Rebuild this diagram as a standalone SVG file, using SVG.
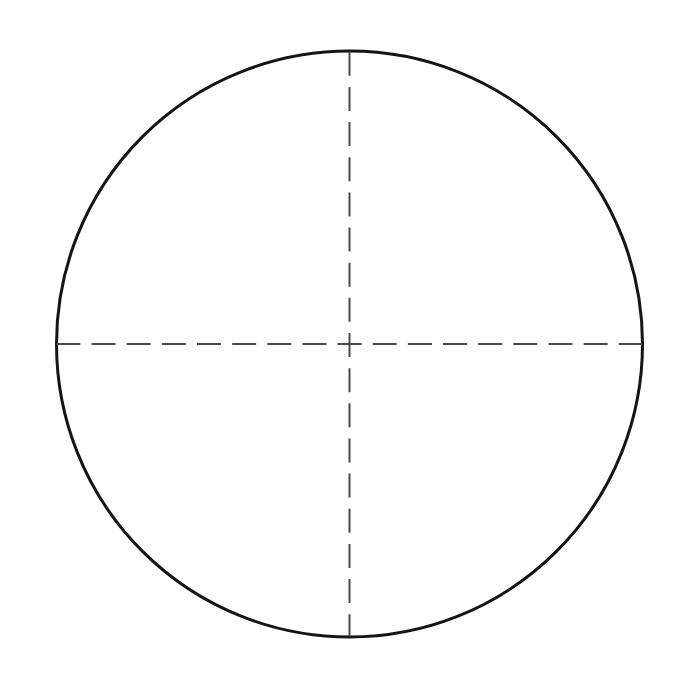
<svg xmlns="http://www.w3.org/2000/svg" width="700" height="700" viewBox="0 0 700 700">
<style>
.axis{stroke:#4a4a4a;stroke-width:2;stroke-dasharray:24 11.15;fill:none}
.outline{stroke:#151515;stroke-width:3;fill:none}
</style>
<rect width="700" height="700" fill="#ffffff"/>
<g id="circle">
<circle class="outline" cx="349.5" cy="344" r="293"/>
</g>
<g id="connectors">
<line class="axis" x1="56.4" y1="344" x2="642" y2="344"/>
<line class="axis" x1="349.5" y1="51.8" x2="349.5" y2="636"/>
</g>
</svg>
